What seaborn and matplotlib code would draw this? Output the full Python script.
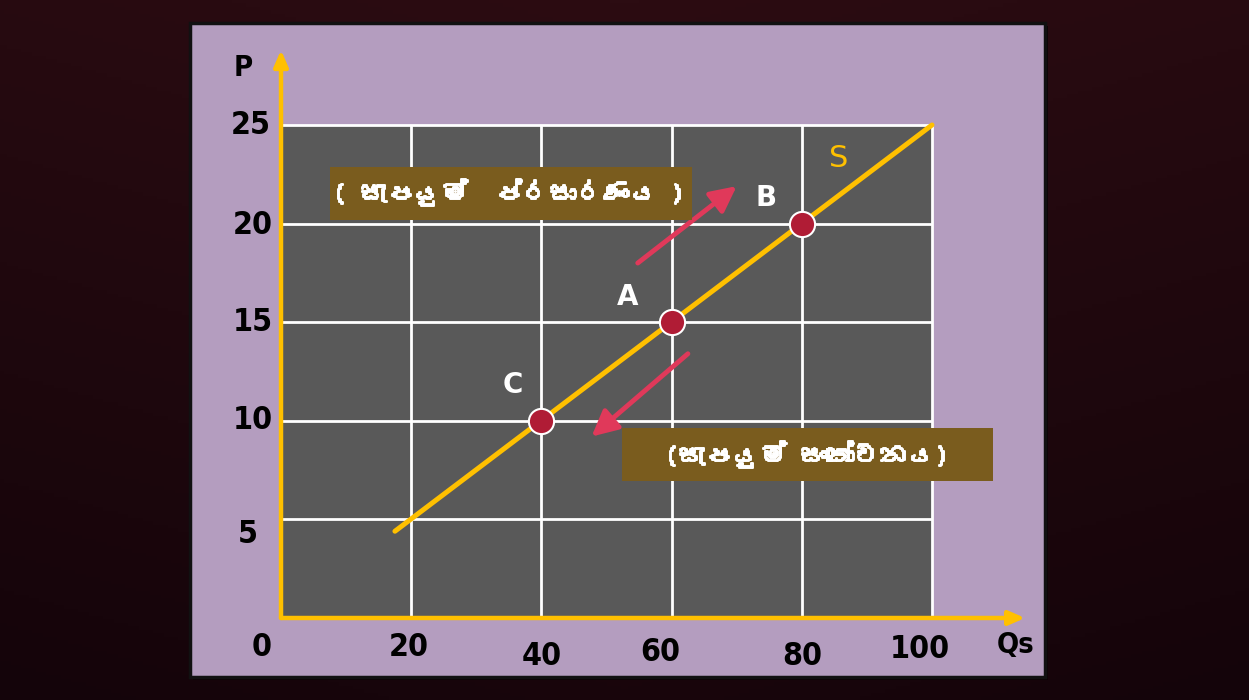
import numpy as np
import pandas as pd
import matplotlib
matplotlib.use("Agg")
import matplotlib.pyplot as plt
from matplotlib.patches import Rectangle
from matplotlib import font_manager, patheffects
from matplotlib.ft2font import FT2Font
import seaborn as sns

# ---------------- data ----------------
supply_q = [17.5, 100]
supply_p = [4.4, 25]
point_labels = ["C", "A", "B"]
point_q = [40, 60, 80]
point_p = [10, 15, 20]
x_ticks = [20, 40, 60, 80, 100]
y_ticks = [5, 10, 15, 20, 25]
x_tick_labels = ["20", "40", "60", "80", "100"]
y_tick_labels = ["5", "10", "15", "20", "25"]
x_max, y_max = 100, 25
label_expand = "( සැපයුම්  ප්රසාරණය )"
label_contract = "(සැපයුම් සංකෝචනය)"

# ---------------- fonts ----------------
def find_sinhala_font():
    for f in font_manager.fontManager.ttflist:
        try:
            if 0x0DC3 in FT2Font(f.fname).get_charmap():
                return f.name
        except Exception:
            pass
    return None

sns.set_theme(style="white")
sin_font = find_sinhala_font()
names = {f.name for f in font_manager.fontManager.ttflist}
narrow = None
for cand in ["Liberation Sans Narrow", "DejaVu Sans Condensed"]:
    if cand in names:
        narrow = cand
        break
plt.rcParams["font.family"] = ["DejaVu Sans"]
num_font = dict(family=[narrow, "DejaVu Sans"] if narrow else ["DejaVu Sans"],
                stretch="condensed")
sin_family = [sin_font, "DejaVu Sans"] if sin_font else ["Noto Sans", "DejaVu Sans"]

# ---------------- figure ----------------
W, H = 1249, 700
fig = plt.figure(figsize=(W / 100, H / 100), dpi=100)
fig.patch.set_facecolor("#22070c")

# background gradient
bg = fig.add_axes([0, 0, 1, 1], zorder=-10)
yy, xx = np.mgrid[0:1:200j, 0:1:350j]
grad = 1 - 0.5 * yy - 0.25 * np.abs(xx - 0.5)
bg.imshow(grad, cmap=matplotlib.colors.LinearSegmentedColormap.from_list(
    "m", ["#14040a", "#2c0c12"]), aspect="auto", extent=[0, 1, 0, 1])
bg.axis("off")

# panel
fig.patches.append(Rectangle((193 / W, 1 - 680 / H), (1048 - 193) / W, (680 - 26) / H,
                             transform=fig.transFigure, facecolor="#0c0204",
                             edgecolor="none", zorder=-5))
fig.patches.append(Rectangle((190 / W, 1 - 677 / H), (1045 - 190) / W, (677 - 23) / H,
                             transform=fig.transFigure, facecolor="#b49dbf",
                             edgecolor="#111111", linewidth=2.5, zorder=-4))

# data axes: 0 -> px 281, 100 -> px 932 ; 0 -> py 618, 25 -> py 125
sx = (932 - 281) / 100.0
sy = (618 - 125) / 25.0
xlim = (0, 115)
ylim = (0, 29)
ax = fig.add_axes([281 / W, (H - 618) / H, xlim[1] * sx / W, ylim[1] * sy / H])
ax.set_xlim(*xlim)
ax.set_ylim(*ylim)
ax.patch.set_alpha(0)
for s in ax.spines.values():
    s.set_visible(False)
ax.set_xticks([])
ax.set_yticks([])

# gray plotting field and white grid
ax.add_patch(Rectangle((0, 0), x_max, y_max, facecolor="#595959", edgecolor="none", zorder=0))
ax.vlines(x_ticks, 0, y_max, colors="white", linewidth=2.0, zorder=1)
ax.hlines(y_ticks, 0, x_max, colors="white", linewidth=2.0, zorder=1)

# axes arrows
axis_col = "#ffc000"
ax.annotate("", xy=(114.3, 0), xytext=(0, 0),
            arrowprops=dict(arrowstyle="-|>,head_length=0.8,head_width=0.35",
                            color=axis_col, lw=3.2, shrinkA=0, shrinkB=0), zorder=3)
ax.annotate("", xy=(0, 28.8), xytext=(0, 0),
            arrowprops=dict(arrowstyle="-|>,head_length=0.8,head_width=0.35",
                            color=axis_col, lw=3.2, shrinkA=0, shrinkB=0), zorder=3)

# supply curve
sns.lineplot(x=supply_q, y=supply_p, ax=ax, color="#ffc000", linewidth=3.6,
             zorder=4, legend=False)

# movement arrows
arrow_col = "#e0395a"
ax.annotate("", xy=(70.0, 21.9), xytext=(54.8, 18.0),
            arrowprops=dict(arrowstyle="-|>,head_length=1.3,head_width=0.65",
                            color=arrow_col, lw=3.5, shrinkA=0, shrinkB=0), zorder=4)
ax.annotate("", xy=(47.7, 9.2), xytext=(62.5, 13.4),
            arrowprops=dict(arrowstyle="-|>,head_length=1.3,head_width=0.65",
                            color=arrow_col, lw=3.5, shrinkA=0, shrinkB=0), zorder=4)

# points
df = pd.DataFrame({"Q": point_q, "P": point_p, "label": point_labels})
sns.scatterplot(data=df, x="Q", y="P", ax=ax, color="#b01c35", edgecolor="white",
                linewidth=1.5, s=330, zorder=5, legend=False)
ax.set_xlabel("")
ax.set_ylabel("")

label_off = {"C": (-4.4, 1.8), "A": (-6.7, 1.3), "B": (-5.5, 1.3)}
for q, p, lab in zip(point_q, point_p, point_labels):
    dx, dy = label_off[lab]
    ax.text(q + dx, p + dy, lab, color="white", fontsize=20, fontweight="bold",
            ha="center", va="center", zorder=6)

ax.text(85.7, 23.3, "S", color="#ffc000", fontsize=22,
        ha="center", va="center", zorder=6)

# label boxes
box_col = "#7a5c1e"
bold_fx = [patheffects.withStroke(linewidth=1.4, foreground="white")]
ax.add_patch(Rectangle((7.5, 20.18), 55.6, 2.69, facecolor=box_col, edgecolor="none", zorder=6))
ax.text(35.0, 21.6, label_expand, color="white", fontsize=19.5, fontweight="bold",
        family=sin_family, ha="center", va="center", zorder=7, path_effects=bold_fx)
ax.add_patch(Rectangle((52.4, 6.95), 57.0, 2.68, facecolor=box_col, edgecolor="none",
                       zorder=6, clip_on=False))
ax.text(80.8, 8.3, label_contract, color="white", fontsize=19.5, fontweight="bold",
        family=sin_family, ha="center", va="center", zorder=7, path_effects=bold_fx)

# tick labels (hand-placed like the slide)
tick_kw = dict(fontsize=23, fontweight="bold", color="black", ha="center",
               va="center", clip_on=False, **num_font)
x_lab_dy = [-1.5, -1.95, -1.75, -1.95, -1.6]
x_lab_dx = [-0.3, 0.0, -1.7, 0.0, -1.9]
for t, lab, dx, dy in zip(x_ticks, x_tick_labels, x_lab_dx, x_lab_dy):
    ax.text(t + dx, dy, lab, **tick_kw)
ax.text(-2.9, -1.5, "0", **tick_kw)
y_lab_dx = [-5.1, -4.4, -4.4, -4.4, -4.7]
y_lab_dy = [-0.75, 0.0, 0.0, -0.1, 0.0]
for t, lab, dx, dy in zip(y_ticks, y_tick_labels, y_lab_dx, y_lab_dy):
    ax.text(dx, t + dy, lab, **tick_kw)

ax.text(-5.8, 27.9, "P", **{**tick_kw, "fontsize": 21})
ax.text(112.8, -1.35, "Qs", **{**tick_kw, "fontsize": 21})

fig.savefig("out.png", dpi=100, facecolor=fig.get_facecolor())
